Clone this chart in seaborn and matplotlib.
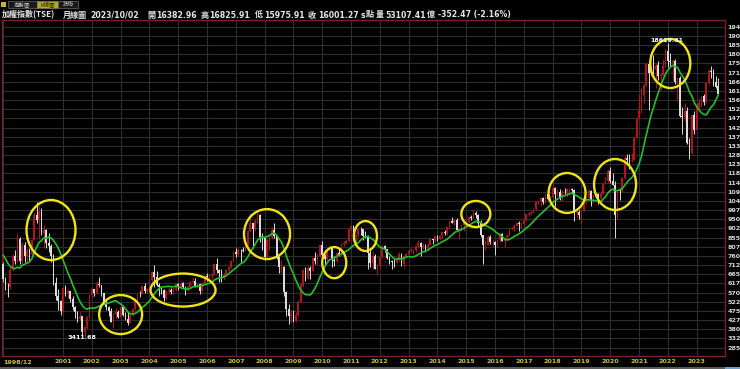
import numpy as np
import pandas as pd
import matplotlib
matplotlib.use("Agg")
import matplotlib.pyplot as plt
import seaborn as sns
from matplotlib.patches import Ellipse, Rectangle

# ---------------- data (TAIEX monthly, 1998/12 - 2023/10) ----------------
warmup_closes = [8237, 8795, 8889, 8450, 7826, 7549, 7838, 6550, 6830, 7165, 7157]  # 1998/01-11

opens = [7157,
    6418, 5998, 5965, 6881, 7581, 7316, 8467, 7326, 8157, 7598, 7854, 7720,
    8448, 9744, 9435, 9854, 8774, 8939, 8265, 8114, 7616, 6185, 5544, 5256,
    4739, 5936, 5674, 5797, 5381, 4935, 4694, 4352, 4500, 3636, 3903, 4441,
    5551, 5872, 5697, 6167, 6082, 5676, 5153, 4941, 4764, 4191, 4579, 4680,
    4452, 4942, 4554, 4321, 4148, 4555, 4872, 5318, 5650, 5611, 6045, 5771,
    5890, 6375, 6750, 6522, 6117, 5977, 5840, 5420, 5765, 5845, 5706, 5844,
    6140, 5994, 6207, 6006, 5819, 6011, 6242, 6312, 6033, 6119, 5765, 6203,
    6548, 6532, 6561, 6613, 7171, 6847, 6704, 6455, 6611, 6884, 7021, 7345,
    7823, 7699, 7902, 7884, 7875, 8145, 8883, 9288, 8982, 9411, 9711, 8586,
    8506, 7521, 8412, 8572, 8920, 8619, 7523, 7024, 7046, 5720, 4870, 4460,
    4591, 4248, 4557, 5210, 6092, 6890, 6432, 6958, 6826, 7509, 7340, 7582,
    8188, 7640, 7436, 7920, 8004, 7374, 7329, 7760, 7616, 8238, 8287, 8372,
    8973, 9145, 8600, 8683, 9008, 8988, 8653, 8644, 7741, 7225, 7588, 6904,
    7072, 7517, 8121, 7933, 7501, 7301, 7296, 7271, 7398, 7715, 7166, 7580,
    7699, 7850, 7897, 7919, 8093, 8254, 8062, 8107, 7914, 8173, 8450, 8407,
    8612, 8462, 8639, 8849, 8792, 9075, 9393, 9315, 9436, 8966, 8974, 9187,
    9307, 9361, 9622, 9586, 9820, 9701, 9323, 8665, 8175, 8181, 8554, 8320,
    8338, 8145, 8411, 8744, 8377, 8535, 8666, 9007, 9069, 9166, 9290, 9240,
    9254, 9448, 9750, 9811, 9872, 10040, 10395, 10427, 10586, 10384, 10794, 10560,
    10643, 11104, 10815, 10919, 10658, 10875, 10837, 11057, 11064, 11006, 9802, 9888,
    9727, 9932, 10389, 10641, 10968, 10498, 10731, 10824, 10618, 10830, 11358, 11489,
    11997, 11495, 11292, 9708, 10992, 10942, 11621, 12665, 12592, 12516, 12546, 13723,
    14732, 15138, 15953, 16431, 17567, 17068, 17755, 17247, 17490, 16934, 16987, 17428,
    18219, 17674, 17652, 17693, 16592, 16807, 14826, 14778, 15095, 13425, 12950, 14880,
    14138, 15265, 15504, 15868, 15579, 16579, 17202, 17145, 16634, 16383]

highs = [7300,
    6500, 6200, 7000, 7700, 7900, 8710, 8600, 8300, 8300, 8000, 8000, 8500,
    9800, 10393, 10200, 10100, 9200, 9000, 8800, 8200, 7700, 6500, 5900, 5300,
    6000, 6100, 5900, 5800, 5500, 5000, 4750, 4700, 4500, 3950, 4500, 5600,
    6000, 5900, 6300, 6484, 6100, 5700, 5300, 5000, 4900, 4650, 4900, 4800,
    5100, 5000, 4700, 4700, 4600, 4900, 5400, 5700, 5800, 6100, 6200, 5950,
    6400, 6800, 7135, 6800, 6200, 6000, 5900, 5800, 6000, 5950, 6000, 6200,
    6200, 6250, 6250, 6050, 6100, 6300, 6500, 6480, 6200, 6150, 6250, 6600,
    6700, 6650, 6700, 7200, 7474, 6900, 6900, 6700, 6900, 7100, 7400, 7850,
    7990, 8000, 7950, 8050, 8200, 8900, 9800, 9300, 9500, 9860, 9750, 8800,
    8600, 8450, 8700, 9100, 9309, 8650, 7600, 7400, 7100, 5800, 5100, 4800,
    4800, 4700, 5300, 6200, 6900, 7000, 7100, 7100, 7550, 7800, 7700, 8200,
    8395, 7650, 7950, 8190, 8050, 7600, 7800, 8000, 8250, 8350, 8500, 9000,
    9220, 9200, 8750, 9050, 9100, 9000, 8900, 8700, 7900, 7800, 7700, 7200,
    7550, 8170, 8170, 7950, 7600, 7400, 7450, 7550, 7800, 7750, 7600, 7750,
    7900, 8000, 7950, 8100, 8400, 8300, 8250, 8200, 8250, 8470, 8480, 8650,
    8700, 8650, 8850, 8950, 9100, 9400, 9600, 9450, 9570, 9000, 9200, 9350,
    9450, 9650, 9700, 9973, 9900, 9750, 9450, 8700, 8400, 8700, 8700, 8400,
    8350, 8450, 8800, 8800, 8550, 8700, 9050, 9100, 9250, 9350, 9400, 9330,
    9450, 9760, 9860, 9950, 10100, 10400, 10520, 10600, 10650, 10800, 10850, 10700,
    11270, 11150, 11050, 11050, 11000, 11100, 11100, 11100, 11100, 11050, 10100, 10000,
    10000, 10400, 10650, 11050, 11000, 10800, 10900, 10850, 10950, 11400, 11700, 12100,
    12197, 11900, 11500, 11000, 11100, 11700, 12800, 12900, 12900, 12950, 13800, 14750,
    16000, 16300, 16500, 17600, 17700, 17800, 18034, 17600, 17700, 17100, 17800, 18300,
    18620, 18100, 17800, 17800, 16800, 16900, 15300, 15500, 15300, 13700, 14900, 15100,
    15500, 15800, 15900, 16000, 16600, 17300, 17463, 17300, 16900, 16826]

lows = [6250,
    5850, 5474, 5900, 6800, 7200, 7300, 7200, 7200, 7300, 7200, 7350, 7600,
    8400, 9300, 8500, 8700, 8000, 8000, 7800, 7300, 6100, 5300, 4800, 4555,
    4700, 5500, 5400, 5200, 4800, 4400, 4200, 4300, 3500, 3412, 3800, 4400,
    5450, 5500, 5650, 6000, 5500, 5100, 4800, 4500, 4200, 3850, 4400, 4400,
    4400, 4500, 4300, 4044, 4100, 4500, 4800, 5200, 5450, 5600, 5700, 5700,
    5850, 6300, 6000, 6050, 5500, 5650, 5255, 5300, 5700, 5650, 5600, 5800,
    5850, 5950, 5950, 5565, 5800, 5950, 6200, 6000, 5950, 5618, 5750, 6150,
    6300, 6400, 6400, 6600, 6700, 6230, 6250, 6350, 6550, 6800, 6950, 7300,
    7550, 7600, 7300, 7800, 7850, 8100, 8850, 7987, 8900, 9300, 8300, 7900,
    7384, 7500, 7900, 8500, 8550, 7450, 6700, 6700, 5500, 4500, 4090, 4200,
    4164, 4200, 4500, 5200, 6000, 6300, 6400, 6400, 6800, 7200, 7200, 7550,
    7600, 7080, 7400, 7900, 7000, 7100, 7300, 7600, 7600, 8100, 8200, 8350,
    8900, 8400, 8200, 8600, 8700, 8400, 8550, 6900, 7000, 6900, 6900, 6600,
    6950, 7500, 7800, 7450, 7200, 6900, 7000, 7250, 7350, 7100, 7050, 7550,
    7650, 7800, 7700, 7800, 8050, 7600, 7950, 7800, 7900, 8150, 8200, 8300,
    8350, 8400, 8550, 8700, 8700, 9050, 9300, 9200, 8950, 8500, 8900, 8900,
    9100, 9350, 9450, 9550, 9550, 9150, 8600, 7203, 7900, 8150, 8200, 8050,
    7627, 8050, 8300, 8350, 8050, 8350, 8650, 8950, 8900, 9150, 8900, 9050,
    9200, 9400, 9650, 9700, 9800, 10000, 10300, 10200, 10300, 10350, 10500, 10250,
    10600, 10189, 10700, 10500, 10450, 10800, 10650, 10750, 10800, 9400, 9600, 9500,
    9319, 9900, 10300, 10600, 10200, 10350, 10600, 10300, 10550, 10800, 11300, 11400,
    11400, 11250, 8523, 9500, 10500, 10900, 11600, 12300, 12100, 12450, 12550, 13700,
    14700, 15000, 15500, 16400, 15160, 16900, 17000, 16300, 16700, 16200, 16900, 17400,
    17400, 17400, 16700, 16500, 15600, 14800, 13928, 14600, 13400, 12629, 12900, 13900,
    14100, 15100, 15300, 15400, 15500, 16500, 16800, 16400, 16300, 15976]

closes = [6418,
    5998, 5965, 6881, 7581, 7316, 8467, 7326, 8157, 7598, 7854, 7720, 8448,
    9744, 9435, 9854, 8774, 8939, 8265, 8114, 7616, 6185, 5544, 5256, 4739,
    5936, 5674, 5797, 5381, 4935, 4694, 4352, 4500, 3636, 3903, 4441, 5551,
    5872, 5697, 6167, 6082, 5676, 5153, 4941, 4764, 4191, 4579, 4680, 4452,
    4942, 4554, 4321, 4148, 4555, 4872, 5318, 5650, 5611, 6045, 5771, 5890,
    6375, 6750, 6522, 6117, 5977, 5840, 5420, 5765, 5845, 5706, 5844, 6140,
    5994, 6207, 6006, 5819, 6011, 6242, 6312, 6033, 6119, 5765, 6203, 6548,
    6532, 6561, 6613, 7171, 6847, 6704, 6455, 6611, 6884, 7021, 7345, 7823,
    7699, 7902, 7884, 7875, 8145, 8883, 9288, 8982, 9411, 9711, 8586, 8506,
    7521, 8412, 8572, 8920, 8619, 7523, 7024, 7046, 5720, 4870, 4460, 4591,
    4248, 4557, 5210, 6092, 6890, 6432, 6958, 6826, 7509, 7340, 7582, 8188,
    7640, 7436, 7920, 8004, 7374, 7329, 7760, 7616, 8238, 8287, 8372, 8973,
    9145, 8600, 8683, 9008, 8988, 8653, 8644, 7741, 7225, 7588, 6904, 7072,
    7517, 8121, 7933, 7501, 7301, 7296, 7271, 7398, 7715, 7166, 7580, 7699,
    7850, 7897, 7919, 8093, 8254, 8062, 8107, 7914, 8173, 8450, 8407, 8612,
    8462, 8639, 8849, 8792, 9075, 9393, 9315, 9436, 8966, 8974, 9187, 9307,
    9361, 9622, 9586, 9820, 9701, 9323, 8665, 8175, 8181, 8554, 8320, 8338,
    8145, 8411, 8744, 8377, 8535, 8666, 9007, 9069, 9166, 9290, 9240, 9254,
    9448, 9750, 9811, 9872, 10040, 10395, 10427, 10586, 10384, 10794, 10560, 10643,
    11104, 10815, 10919, 10658, 10875, 10837, 11057, 11064, 11006, 9802, 9888, 9727,
    9932, 10389, 10641, 10968, 10498, 10731, 10824, 10618, 10830, 11358, 11489, 11997,
    11495, 11292, 9708, 10992, 10942, 11621, 12665, 12592, 12516, 12546, 13723, 14732,
    15138, 15953, 16431, 17567, 17068, 17755, 17247, 17490, 16934, 16987, 17428, 18219,
    17674, 17652, 17693, 16592, 16807, 14826, 14778, 15095, 13425, 12950, 14880, 14138,
    15265, 15504, 15868, 15579, 16579, 17202, 17145, 16634, 16353, 16001]

year_ticks = ["1998/12", "2001", "2002", "2003", "2004", "2005", "2006", "2007", "2008",
              "2009", "2010", "2011", "2012", "2013", "2014", "2015", "2016", "2017",
              "2018", "2019", "2020", "2021", "2022", "2023"]
y_tick_labels = ["285", "332", "380", "427", "475", "522", "570", "617", "665", "712",
                 "760", "807", "855", "902", "950", "997", "104", "109", "114", "118",
                 "123", "128", "133", "137", "142", "147", "152", "156", "161", "166",
                 "171", "175", "180", "185", "190", "194"]

# yellow highlight ellipses: centre month (yyyy-mm), centre value, width (months), height (points)
circle_month = ["2000-08", "2003-01", "2005-03", "2008-02", "2010-06", "2011-07",
                "2015-05", "2018-07", "2020-03", "2022-02"]
circle_value = [8940, 4560, 5830, 8730, 7250, 8630, 9770, 10860, 11300, 17570]
circle_w = [20.4, 17.9, 27.1, 19.2, 10.0, 9.6, 12.1, 15.4, 17.5, 16.7]
circle_h = [3110, 2020, 1710, 2590, 1610, 1550, 1350, 2070, 2640, 2540]

# ---------------- frame ----------------
months = pd.period_range("1998-12", "2023-10", freq="M")
df = pd.DataFrame({"month": months, "open": opens, "high": highs, "low": lows, "close": closes})
df["i"] = np.arange(len(df))
all_close = pd.Series(warmup_closes + closes)
df["ma"] = all_close.rolling(12).mean().iloc[len(warmup_closes):].values
df["up"] = df["close"] >= df["open"]

W, H = 740, 369
sns.set_theme(style="dark")
plt.rcParams["font.family"] = ["Noto Sans CJK TC", "DejaVu Sans"]
plt.rcParams["axes.unicode_minus"] = False

fig = plt.figure(figsize=(W / 100, H / 100), dpi=100, facecolor="black")
ax = fig.add_axes([2 / W, 13 / H, 723 / W, 336 / H], facecolor="black")

# grid
y_ticks = 2850 + 475 * np.arange(len(y_tick_labels))
tick_idx = [0] + [int((pd.Period(f"{y}-01", freq="M") - months[0]).n) for y in year_ticks[1:]]
for yv in y_ticks:
    ax.axhline(yv, color="#2e2e2e", lw=0.8, zorder=0)
for xv in tick_idx:
    ax.axvline(xv, color="#2e2e2e", lw=0.8, zorder=0)

# candles
up_col, dn_col = "#b3141c", "#dcdcdc"
cols = np.where(df["up"], up_col, dn_col)
ax.vlines(df["i"], df["low"], df["high"], colors=cols, lw=0.7, zorder=2)
body_lo = np.minimum(df["open"], df["close"])
body_h = np.maximum(np.abs(df["close"] - df["open"]), 25)
ax.bar(df["i"], body_h, bottom=body_lo, width=0.75, color=cols, linewidth=0, zorder=3)

# moving average
sns.lineplot(data=df, x="i", y="ma", color="#22c02a", lw=1.2, ax=ax, zorder=4)

# ellipses
for m, v, w, h in zip(circle_month, circle_value, circle_w, circle_h):
    cx = (pd.Period(m, freq="M") - months[0]).n
    ax.add_patch(Ellipse((cx, v), w, h, fill=False, ec="#f0e414", lw=1.7, zorder=5))

# extreme labels
lo_i = int(df["low"].idxmin())
hi_i = int(df["high"].idxmax())
ax.text(lo_i - 1, df["low"][lo_i] - 20, "3411.68", color="white", fontsize=4.6,
        fontweight="bold", ha="center", va="center", family="DejaVu Sans", zorder=6)
ax.text(hi_i - 0.5, df["high"][hi_i] + 140, "18619.61", color="white", fontsize=4.6,
        fontweight="bold", ha="center", va="center", family="DejaVu Sans", zorder=6)

ax.set_xlim(-0.42, 300.8)
ax.set_ylim(2413, 19822)
ax.set_xlabel("")
ax.set_ylabel("")
ax.set_xticks(tick_idx)
ax.set_xticklabels(year_ticks)
for lbl in ax.get_xticklabels():
    lbl.set_horizontalalignment("left" if lbl.get_text() == "1998/12" else "center")
ax.set_yticks(y_ticks)
ax.set_yticklabels(y_tick_labels)
ax.yaxis.tick_right()
ax.tick_params(axis="x", colors="#8c8c30", labelcolor="#c4c040", labelsize=4.6,
               length=3, width=0.7, direction="in", pad=2.5)
ax.tick_params(axis="y", length=0, labelcolor="#d8d8d8", labelsize=4.6, pad=2)
for lbl in ax.get_xticklabels() + ax.get_yticklabels():
    lbl.set_fontweight("bold")
    lbl.set_family("DejaVu Sans")
for s in ax.spines.values():
    s.set_color("#7d1f2a")
    s.set_linewidth(1.0)
    s.set_visible(True)
ax.grid(False)

# ---------------- header ----------------
def fx(px):
    return px / W

def fy(py):
    return 1 - py / H

cjk_items = [(2, "加權指數(TSE)"), (63, "月線圖"), (147, "開"), (201, "高"), (255, "低"),
             (308, "收"), (366, "點"), (376, "量"), (427, "億")]
num_items = [(90.5, "2023/10/02"), (156.5, "16382.96"), (209.5, "16825.91"),
             (264, "15975.91"), (318, "16001.27"), (361, "s"), (385, "53107.41"),
             (438, "-352.47 (-2.16%)")]
for x, t in cjk_items:
    fig.text(fx(x), fy(15), t, color="#e6e6e6", fontsize=5.8, fontweight="bold",
             ha="left", va="center", family=["Noto Sans CJK TC", "DejaVu Sans"])
for x, t in num_items:
    fig.text(fx(x), fy(15), t, color="#e6e6e6", fontsize=5.6, fontweight="bold",
             ha="left", va="center", family="DejaVu Sans")

tabs = [(8, 37, "走勢圖", False), (37, 58, "K線圖", True), (58, 78, "技術", False)]
for x0, x1, t, hl in tabs:
    fig.patches.append(Rectangle((fx(x0), fy(8)), fx(x1 - x0), 7 / H, transform=fig.transFigure,
                                 facecolor="#b4a81c" if hl else "#1a1a1a",
                                 edgecolor="#808080", lw=0.4))
    fig.text(fx((x0 + x1) / 2), fy(4.3), t, color="#202020" if hl else "#c8c8c8",
             fontsize=4, ha="center", va="center")
fig.patches.append(Rectangle((fx(1), fy(7)), fx(5), 5 / H, transform=fig.transFigure,
                             facecolor="#c8b040", edgecolor="none"))

# bottom strip
fig.patches.append(Rectangle((0, 0), fx(725), 2.5 / H, transform=fig.transFigure,
                             facecolor="#5a5a5a", edgecolor="none"))
fig.patches.append(Rectangle((fx(725), 0), fx(15), 2.5 / H, transform=fig.transFigure,
                             facecolor="#6aa0d0", edgecolor="none"))

fig.savefig("out.png", dpi=100, facecolor="black")
